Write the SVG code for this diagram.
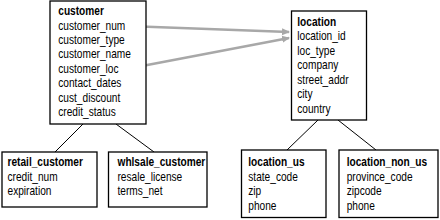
<svg xmlns="http://www.w3.org/2000/svg" width="440" height="220" viewBox="0 0 440 220">
<style>
.box{fill:#fff;stroke:#000;stroke-width:1.3}
.t{font-family:"Liberation Sans",Arial,Helvetica,sans-serif;font-size:13px;fill:#000}
.b{font-weight:bold}
.link{stroke:#000;stroke-width:1;fill:none}
.ref{stroke:#a8a8a8;stroke-width:2.5;fill:none}
</style>
<defs>
<marker id="ah" markerWidth="8" markerHeight="8" refX="7" refY="4" orient="auto" markerUnits="userSpaceOnUse" viewBox="0 0 8 8">
<path d="M0,0.5 L8,4 L0,7.5 z" fill="#a8a8a8"/>
</marker>
</defs>
<rect width="440" height="220" fill="#fff"/>
<g id="connectors">
<line class="link" x1="83" y1="124" x2="55" y2="152"/>
<line class="link" x1="116" y1="124" x2="154" y2="152"/>
<line class="link" x1="318" y1="120" x2="287" y2="150"/>
<line class="link" x1="338" y1="120" x2="376" y2="150"/>
<line class="ref" x1="127" y1="26" x2="289" y2="32" marker-end="url(#ah)"/>
<line class="ref" x1="121" y1="70" x2="289" y2="38" marker-end="url(#ah)"/>
</g>
<g id="customer">
<rect class="box" x="50" y="1" width="96" height="123"/>
<g transform="translate(58.3 0) scale(0.78 1)">
<text class="t b" x="0" y="15.3">customer</text>
<text class="t" x="0" y="29.7">customer_num</text>
<text class="t" x="0" y="44.1">customer_type</text>
<text class="t" x="0" y="58.5">customer_name</text>
<text class="t" x="0" y="72.9">customer_loc</text>
<text class="t" x="0" y="87.3">contact_dates</text>
<text class="t" x="0" y="101.7">cust_discount</text>
<text class="t" x="0" y="116.1">credit_status</text>
</g>
</g>
<g id="location">
<rect class="box" x="291.5" y="11" width="75" height="109"/>
<g transform="translate(297.3 0) scale(0.78 1)">
<text class="t b" x="0" y="25.8">location</text>
<text class="t" x="0" y="40.3">location_id</text>
<text class="t" x="0" y="54.8">loc_type</text>
<text class="t" x="0" y="69.3">company</text>
<text class="t" x="0" y="83.8">street_addr</text>
<text class="t" x="0" y="98.3">city</text>
<text class="t" x="0" y="112.8">country</text>
</g>
</g>
<g id="retail_customer">
<rect class="box" x="2" y="152" width="95" height="55"/>
<g transform="translate(7.5 0) scale(0.78 1)">
<text class="t b" x="0" y="166.3">retail_customer</text>
<text class="t" x="0" y="180.8">credit_num</text>
<text class="t" x="0" y="195.3">expiration</text>
</g>
</g>
<g id="whlsale_customer">
<rect class="box" x="108.5" y="152" width="98.5" height="55"/>
<g transform="translate(117.5 0) scale(0.78 1)">
<text class="t b" x="0" y="166.3">whlsale_customer</text>
<text class="t" x="0" y="180.8">resale_license</text>
<text class="t" x="0" y="195.3">terms_net</text>
</g>
</g>
<g id="location_us">
<rect class="box" x="241.5" y="150" width="84.5" height="67.5"/>
<g transform="translate(248.3 0) scale(0.78 1)">
<text class="t b" x="0" y="166.3">location_us</text>
<text class="t" x="0" y="180.8">state_code</text>
<text class="t" x="0" y="195.3">zip</text>
<text class="t" x="0" y="209.8">phone</text>
</g>
</g>
<g id="location_non_us">
<rect class="box" x="339" y="150" width="99" height="67.5"/>
<g transform="translate(346.7 0) scale(0.78 1)">
<text class="t b" x="0" y="166.3">location_non_us</text>
<text class="t" x="0" y="180.8">province_code</text>
<text class="t" x="0" y="195.3">zipcode</text>
<text class="t" x="0" y="209.8">phone</text>
</g>
</g>
</svg>
